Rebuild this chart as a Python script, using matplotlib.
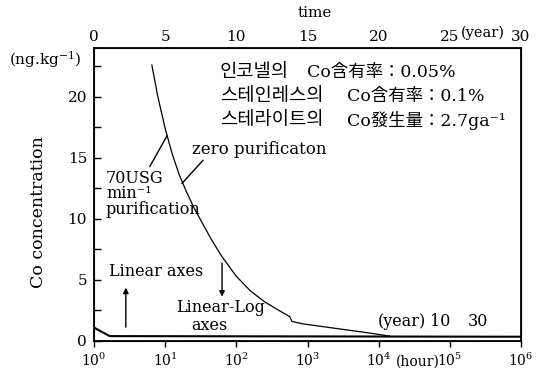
import numpy as np
import matplotlib.pyplot as plt

plt.rcParams['font.family'] = ['DejaVu Serif', 'Noto Sans CJK KR']
plt.rcParams['mathtext.fontset'] = 'dejavuserif'

# --- data ---
# zero purification curve, Linear-Log axes (hour, ng/kg)
zero_hours = [6.5, 7.9, 10, 12.6, 15.8, 20, 25, 31.6, 44.7, 63, 100, 158, 251, 398, 562, 605, 865, 7500, 14400]
zero_conc = [22.6, 20.0, 17.4, 15.3, 13.6, 12.2, 11.0, 9.9, 8.3, 6.9, 5.3, 4.1, 3.2, 2.5, 2.0, 1.6, 1.4, 0.65, 0.4]
# 70USG/min purification, Linear axes
lin_hours = [1.0, 1.66, 1e6]
lin_conc = [1.1, 0.4, 0.35]

bottom_ticks = [1e0, 1e1, 1e2, 1e3, 1e4, 1e5, 1e6]
bottom_labels = ['$10^{0}$', '$10^{1}$', '$10^{2}$', '$10^{3}$', '$10^{4}$', '$10^{5}$', '$10^{6}$']
top_ticks = [0, 5, 10, 15, 20, 25, 30]
top_labels = ['0', '5', '10', '15', '20', '25', '30']
y_ticks = np.arange(0, 24, 2.5)

note_names = ['인코넬의', '스테인레스의', '스테라이트의']
note_values = ['Co含有率：0.05%', 'Co含有率：0.1%', 'Co發生量：2.7ga⁻¹']

fig = plt.figure(figsize=(5.44, 3.79), dpi=100)
ax = fig.add_axes([94/544, 1 - 341/379, (521-94)/544, (341-48)/379])

ax.plot(zero_hours, zero_conc, color='black', lw=0.9)
ax.plot(lin_hours, lin_conc, color='black', lw=1.5)

ax.set_xscale('log')
ax.set_xlim(1, 1e6)
ax.set_ylim(0, 24)
ax.set_xticks(bottom_ticks)
ax.set_xticklabels(bottom_labels, fontsize=10)
ax.minorticks_off()
ax.tick_params(axis='x', direction='out', length=4, width=1, pad=4)
ax.set_yticks(y_ticks)
ax.set_yticklabels(['%d' % v if v % 5 == 0 else '' for v in y_ticks], fontsize=11)
ax.tick_params(axis='y', direction='in', length=5, width=1, pad=5)
for s in ax.spines.values():
    s.set_linewidth(1.3)

ax.set_ylabel('Co concentration', fontsize=12.5)
ax.yaxis.set_label_coords(-0.11, 0.44)

top = ax.twiny()
top.set_xlim(0, 30)
top.set_xticks(top_ticks)
top.set_xticklabels(top_labels, fontsize=11)
top.tick_params(axis='x', length=0, pad=3)

# leader lines and arrows
ax.plot([6.1, 10.6], [14.3, 16.8], color='black', lw=1.0)
ax.plot([34, 17.2], [14.8, 12.9], color='black', lw=1.0)
ax.annotate('', xy=(2.8, 4.6), xytext=(2.8, 0.9),
            arrowprops=dict(arrowstyle='-|>', color='black', lw=1.0, mutation_scale=8))
ax.annotate('', xy=(63, 3.4), xytext=(63, 6.6),
            arrowprops=dict(arrowstyle='-|>', color='black', lw=1.0, mutation_scale=8))

def P(x, y):
    return x / 544, 1 - y / 379

fig.text(*P(315, 13), 'time', ha='center', va='center', fontsize=11)
fig.text(*P(483, 33), '(year)', ha='center', va='center', fontsize=10.5)
fig.text(*P(45, 60), '(ng.kg$^{-1}$)', ha='center', va='center', fontsize=11)
fig.text(*P(418, 362), '(hour)', ha='center', va='center', fontsize=10)

value_x = [307, 347, 347]
for i in range(3):
    fig.text(*P(220, 72 + 24 * i), note_names[i], ha='left', va='center', fontsize=13.5)
    fig.text(*P(value_x[i], 72 + 24 * i), note_values[i], ha='left', va='center', fontsize=12.5)

fig.text(*P(192, 150), 'zero purificaton', ha='left', va='center', fontsize=12)
fig.text(*P(106, 194), '70USG\nmin⁻¹\npurification', ha='left', va='center',
         fontsize=11.5, linespacing=0.85)
fig.text(*P(156, 272), 'Linear axes', ha='center', va='center', fontsize=11.5)
fig.text(*P(221, 307), 'Linear-Log', ha='center', va='center', fontsize=11.5)
fig.text(*P(209, 326), 'axes', ha='center', va='center', fontsize=11.5)
fig.text(*P(378, 322), '(year)', ha='left', va='center', fontsize=11.5)
fig.text(*P(440, 322), '10', ha='center', va='center', fontsize=11.5)
fig.text(*P(478, 322), '30', ha='center', va='center', fontsize=11.5)

fig.savefig('out.png', dpi=100)
